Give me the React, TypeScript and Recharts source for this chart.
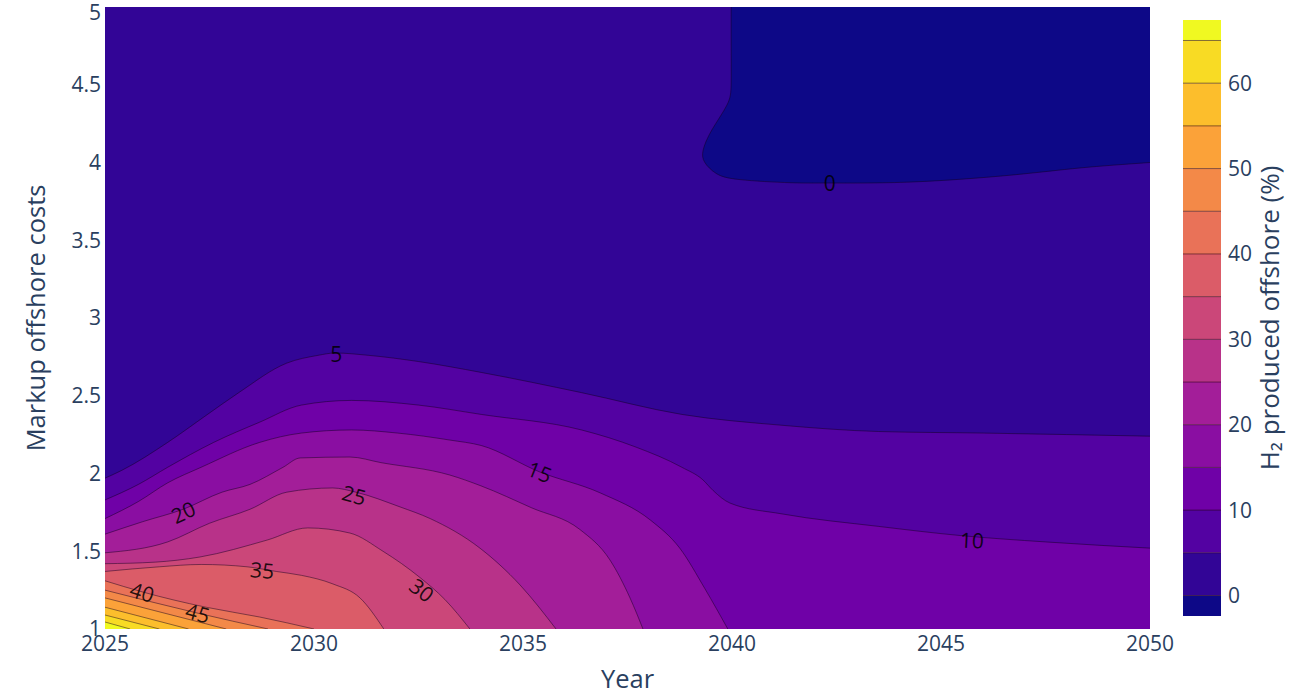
import React from 'react';
import { ComposedChart, Area, XAxis, YAxis, Scatter, ReferenceArea, ReferenceLine, Label } from 'recharts';

// ---------- data ----------
const xTicks = [2025, 2030, 2035, 2040, 2045, 2050];
const yTicks = [1, 1.5, 2, 2.5, 3, 3.5, 4, 4.5, 5];
const colorbarTicks = [0, 10, 20, 30, 40, 50, 60];
const contourLevels = [0, 5, 10, 15, 20, 25, 30, 35, 40, 45, 50, 55, 60, 65];
const colorbarMin = -2.4;
const colorbarMax = 67.4;

// whole plot (band 0-5 as background)
const fullPlot: number[][] = [[2025, 5], [2050, 5]];
// boundary of the region below 0 (top right), in path order
const level0: number[][] = [
  [2039.98, 5.0], [2039.98, 4.76], [2039.98, 4.51], [2039.88, 4.37], [2039.52, 4.21], [2039.31, 4.08],
  [2039.35, 4.0], [2039.62, 3.93], [2040.19, 3.89], [2041.39, 3.87], [2042.34, 3.868], [2044.33, 3.875],
  [2046.72, 3.92], [2048.33, 3.965], [2050, 4.0],
];
const level5: number[][] = [
  [2025, 1.97], [2025.4, 2.02], [2026.5, 2.2], [2027.4, 2.37], [2028.2, 2.52], [2029.35, 2.71], [2030.1, 2.76],
  [2030.5, 2.775], [2031.3, 2.76], [2032.5, 2.72], [2034, 2.65], [2036.4, 2.52], [2038.8, 2.38], [2041.2, 2.31],
  [2043.5, 2.27], [2046, 2.26], [2050, 2.24],
];
const level10: number[][] = [
  [2025, 1.83], [2025.8, 1.93], [2026.5, 2.04], [2027.6, 2.2], [2028.7, 2.33], [2029.7, 2.44], [2030.9, 2.47],
  [2032.5, 2.44], [2034, 2.38], [2036.4, 2.28], [2037.7, 2.17], [2038.8, 2.04], [2039.3, 1.96], [2039.55, 1.89],
  [2039.95, 1.81], [2041.2, 1.74], [2043.5, 1.66], [2045.5, 1.6], [2047.5, 1.56], [2050, 1.52],
];
const level15: number[][] = [
  [2025, 1.71], [2025.8, 1.82], [2026.5, 1.94], [2027.3, 2.04], [2028.7, 2.2], [2029.7, 2.26], [2030.9, 2.28],
  [2032, 2.26], [2033.25, 2.215], [2034, 2.18], [2035.4, 2.01], [2036.85, 1.875], [2038.05, 1.7],
  [2038.75, 1.52], [2039.35, 1.26], [2039.9, 1.0],
];
const level20: number[][] = [
  [2025, 1.61], [2025.9, 1.69], [2026.87, 1.77], [2027.8, 1.88], [2028.47, 1.93], [2029.26, 2.04], [2029.67, 2.1],
  [2030.86, 2.106], [2031.6, 2.07], [2033.25, 1.99], [2034, 1.92], [2035.2, 1.78], [2036.36, 1.64],
  [2037.08, 1.444], [2037.56, 1.2], [2037.87, 1.0],
];
const level25: number[][] = [
  [2025, 1.49], [2026.5, 1.56], [2027.5, 1.68], [2028.47, 1.77], [2029.35, 1.88], [2030.45, 1.907], [2031.0, 1.88],
  [2032.06, 1.785], [2032.78, 1.71], [2033.97, 1.52], [2034.93, 1.283], [2035.79, 1.0],
];
const level30: number[][] = [
  [2025, 1.42], [2026.2, 1.43], [2027.27, 1.463], [2028.88, 1.572], [2029.85, 1.65], [2030.86, 1.617],
  [2031.65, 1.5], [2032.54, 1.33], [2033.13, 1.19], [2033.73, 1.0],
];
const level35: number[][] = [
  [2025, 1.37], [2026.3, 1.4], [2027.3, 1.415], [2028.4, 1.4], [2029.1, 1.37], [2029.7, 1.345], [2030.45, 1.29],
  [2031.1, 1.2], [2031.67, 1.0],
];
const level40: number[][] = [[2025, 1.31], [2025.9, 1.238], [2027.4, 1.141], [2028.7, 1.077], [2030.0, 1.0]];
const level45: number[][] = [[2025, 1.25], [2027.2, 1.103], [2028.9, 1.0]];
const level50: number[][] = [[2025, 1.2], [2027.9, 1.0]];
const level55: number[][] = [[2025, 1.14], [2027.0, 1.0]];
const level60: number[][] = [[2025, 1.09], [2026.3, 1.0]];
const level65: number[][] = [[2025, 1.045], [2025.6, 1.0]];

const contourLabels = [
  { year: 2042.34, markup: 3.868, text: '0', angle: 0 },
  { year: 2030.53, markup: 2.768, text: '5', angle: 0 },
  { year: 2045.74, markup: 1.572, text: '10', angle: 3 },
  { year: 2035.4, markup: 2.01, text: '15', angle: 22 },
  { year: 2026.87, markup: 1.752, text: '20', angle: -25 },
  { year: 2030.96, markup: 1.862, text: '25', angle: 15 },
  { year: 2032.58, markup: 1.251, text: '30', angle: 38 },
  { year: 2028.76, markup: 1.379, text: '35', angle: 5 },
  { year: 2025.89, markup: 1.238, text: '40', angle: 18 },
  { year: 2027.22, markup: 1.103, text: '45', angle: 15 },
];

// ---------- helpers ----------
const PLASMA = ['#0d0887', '#46039f', '#7201a8', '#9c179e', '#bd3786', '#d8576b', '#ed7953', '#fb9f3a', '#fdca26', '#f0f921'];
const hex = (h: string) => [1, 3, 5].map((i) => parseInt(h.slice(i, i + 2), 16));
function plasma(t: number): string {
  const n = PLASMA.length - 1;
  const p = Math.max(0, Math.min(1, t)) * n;
  const i = Math.min(Math.floor(p), n - 1);
  const f = p - i;
  const a = hex(PLASMA[i]);
  const b = hex(PLASMA[i + 1]);
  const c = a.map((v, k) => Math.round(v + (b[k] - v) * f));
  return `rgb(${c[0]},${c[1]},${c[2]})`;
}
const NB = contourLevels.length; // bands: below first level + one per level
const bandColor = (k: number) => plasma(k / NB);

const toPts = (pairs: number[][]) => pairs.map(([year, markup]) => ({ year, markup }));

const levelSeries = [
  { level: 5, pts: level5 }, { level: 10, pts: level10 }, { level: 15, pts: level15 }, { level: 20, pts: level20 },
  { level: 25, pts: level25 }, { level: 30, pts: level30 }, { level: 35, pts: level35 }, { level: 40, pts: level40 },
  { level: 45, pts: level45 }, { level: 50, pts: level50 }, { level: 55, pts: level55 }, { level: 60, pts: level60 },
  { level: 65, pts: level65 },
];

const colorbarBands = [colorbarMin, ...contourLevels].map((lo, k, arr) => ({
  lo,
  hi: k + 1 < arr.length ? arr[k + 1] : colorbarMax,
  k,
}));

const LINE = 'rgba(20,0,30,0.6)';
const FONT = '"Open Sans", "Noto Sans", Arial, sans-serif';
const TXT = '#2a3f5f';
const TICK_FS = 21;
const TITLE_FS = 25.5;

const ContourLabel = (props: any) => {
  const { cx, cy, payload } = props;
  if (cx == null || cy == null) return null;
  return (
    <text
      x={cx}
      y={cy}
      transform={`rotate(${payload.angle} ${cx} ${cy})`}
      textAnchor="middle"
      dominantBaseline="central"
      fontSize={21}
      fontFamily={FONT}
      fill="rgba(0,0,0,0.85)"
    >
      {payload.text}
    </text>
  );
};

export default function App() {
  return (
    <div style={{ position: 'absolute', left: 0, top: 0, width: 1291, height: 695, background: '#fff', fontFamily: FONT }}>
      <div style={{ position: 'absolute', left: 0, top: 0 }}>
        <ComposedChart width={1291} height={695} margin={{ top: 7, right: 141, bottom: 6, left: 45 }}>
          <XAxis
            type="number"
            dataKey="year"
            domain={[2025, 2050]}
            ticks={xTicks}
            allowDataOverflow
            axisLine={false}
            tickLine={false}
            tickSize={6}
            tickMargin={1}
            height={60}
            tick={{ fontSize: TICK_FS, fill: TXT, fontFamily: FONT }}
          >
            <Label
              content={(p: any) => {
                const vb = p.viewBox || {};
                return (
                  <text x={vb.x + vb.width / 2} y={vb.y + vb.height - 1} textAnchor="middle" fontSize={TITLE_FS} fill={TXT} fontFamily={FONT}>
                    Year
                  </text>
                );
              }}
            />
          </XAxis>
          <YAxis
            type="number"
            dataKey="markup"
            domain={[1, 5]}
            ticks={yTicks}
            allowDataOverflow
            axisLine={false}
            tickLine={false}
            tickSize={4}
            tickMargin={0}
            width={60}
            tick={{ fontSize: TICK_FS, fill: TXT, fontFamily: FONT }}
          >
            <Label
              content={(p: any) => {
                const vb = p.viewBox || {};
                const x = vb.x - 10;
                const y = vb.y + vb.height / 2;
                return (
                  <text x={x} y={y} transform={`rotate(-90 ${x} ${y})`} textAnchor="middle" dominantBaseline="central" fontSize={TITLE_FS} fill={TXT} fontFamily={FONT}>
                    Markup offshore costs
                  </text>
                );
              }}
            />
          </YAxis>
          <Area
            data={toPts(fullPlot)}
            dataKey="markup"
            baseValue={1}
            type="linear"
            fill={bandColor(1)}
            fillOpacity={1}
            stroke="none"
            isAnimationActive={false}
            dot={false}
            activeDot={false}
          />
          <Area
            data={toPts(level0)}
            dataKey="markup"
            baseValue={5}
            type="natural"
            fill={bandColor(0)}
            fillOpacity={1}
            stroke={LINE}
            strokeWidth={0.8}
            isAnimationActive={false}
            dot={false}
            activeDot={false}
          />
          {levelSeries.map((s) => (
            <Area
              key={s.level}
              data={toPts(s.pts)}
              dataKey="markup"
              baseValue={1}
              type="monotone"
              fill={bandColor(contourLevels.indexOf(s.level) + 1)}
              fillOpacity={1}
              stroke={LINE}
              strokeWidth={0.8}
              isAnimationActive={false}
              dot={false}
              activeDot={false}
            />
          ))}
          <Scatter data={contourLabels} dataKey="markup" shape={ContourLabel} isAnimationActive={false} />
        </ComposedChart>
      </div>
      <div style={{ position: 'absolute', left: 1150, top: 0 }}>
        <ComposedChart width={141} height={695} margin={{ top: 20, right: 0, bottom: 79, left: 33 }} data={[{ x: 0 }, { x: 1 }]}>
          <XAxis type="number" dataKey="x" domain={[0, 1]} hide />
          <YAxis
            type="number"
            orientation="right"
            domain={[colorbarMin, colorbarMax]}
            ticks={colorbarTicks}
            allowDataOverflow
            axisLine={false}
            tickLine={false}
            tickSize={0}
            tickMargin={7}
            width={70}
            tick={{ fontSize: TICK_FS, fill: TXT, fontFamily: FONT }}
          >
            <Label
              content={(p: any) => {
                const vb = p.viewBox || {};
                const x = vb.x + 48;
                const y = vb.y + vb.height / 2;
                return (
                  <text x={x} y={y} transform={`rotate(-90 ${x} ${y})`} textAnchor="middle" dominantBaseline="central" fontSize={26} fill={TXT} fontFamily={FONT}>
                    H₂ produced offshore (%)
                  </text>
                );
              }}
            />
          </YAxis>
          {colorbarBands.map((b) => (
            <ReferenceArea key={b.k} y1={b.lo} y2={b.hi} fill={bandColor(b.k)} fillOpacity={1} stroke="none" ifOverflow="visible" />
          ))}
          {contourLevels.map((l) => (
            <ReferenceLine key={l} y={l} stroke="rgba(40,0,20,0.55)" strokeWidth={1} />
          ))}
        </ComposedChart>
      </div>
    </div>
  );
}
